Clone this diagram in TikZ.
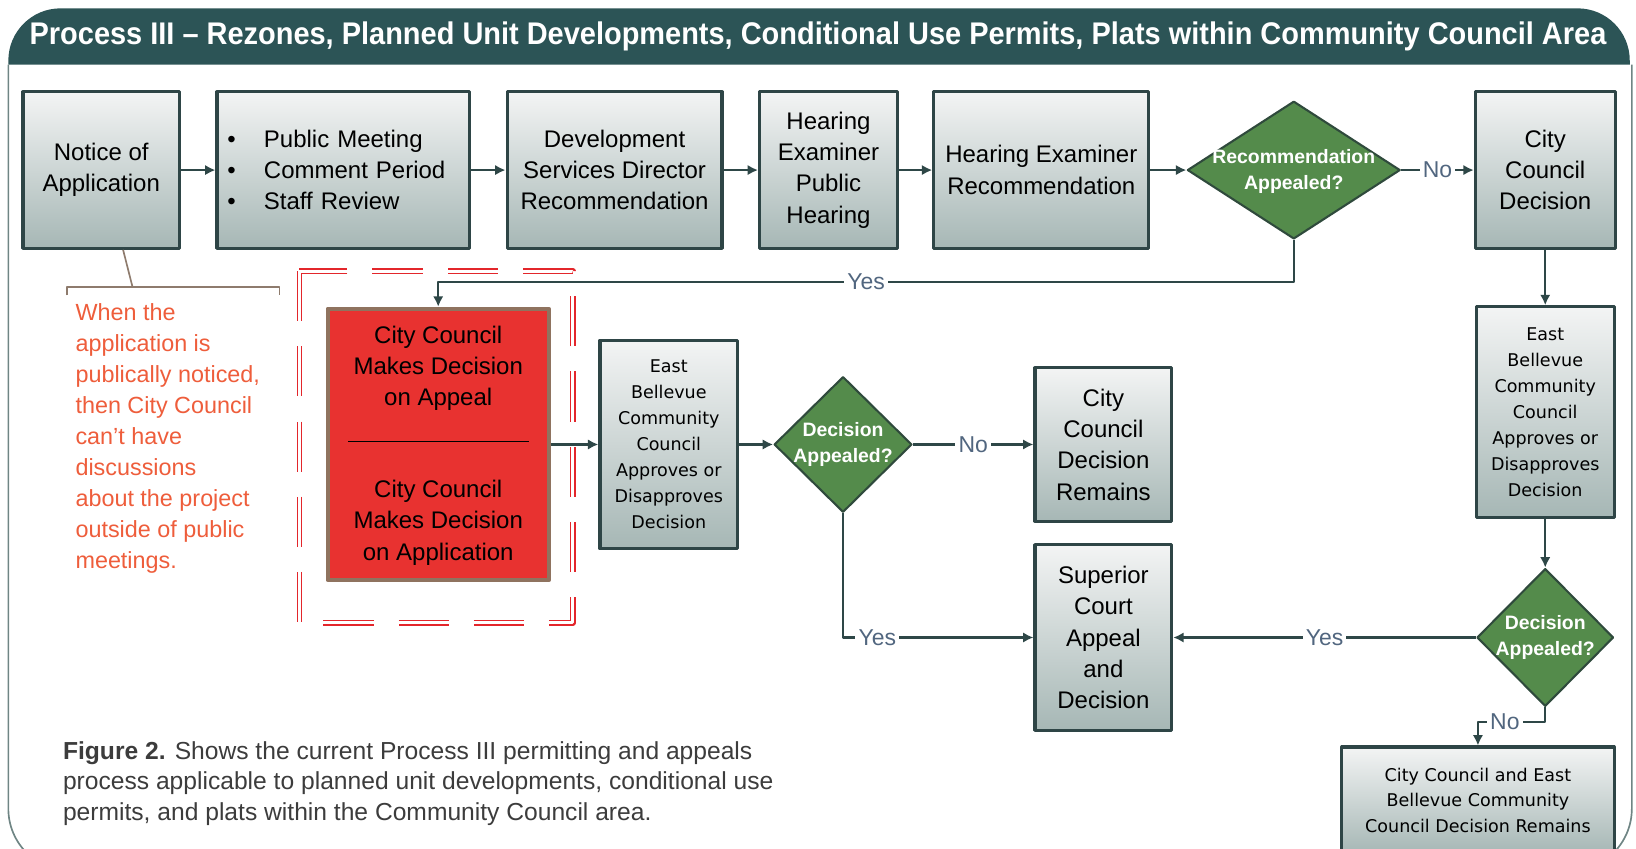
\documentclass[tikz,border=0pt]{standalone}
\usepackage{fontspec}
\setmainfont{Liberation Sans}
\newfontfamily\ebfont{DejaVu Sans}
\newfontfamily\titlefont{Liberation Sans}[FakeStretch=0.925]
\usetikzlibrary{arrows.meta,shapes.geometric}
\definecolor{banner}{HTML}{2C5456}
\definecolor{boxline}{HTML}{2E4546}
\definecolor{boxtop}{HTML}{F3F4F4}
\definecolor{boxbot}{HTML}{A6B7B5}
\definecolor{diamfill}{HTML}{548B4B}
\definecolor{diamline}{HTML}{2F4A3C}
\definecolor{arrowcol}{HTML}{2E4747}
\definecolor{labcol}{HTML}{51667F}
\definecolor{notecol}{HTML}{EE5D3B}
\definecolor{brktcol}{HTML}{8E7B6D}
\definecolor{redfill}{HTML}{E83230}
\definecolor{redline}{HTML}{8F735F}
\definecolor{dashred}{HTML}{E3262B}
\definecolor{captcol}{HTML}{3C3C3C}
\definecolor{framecol}{HTML}{6F8584}
\begin{document}
\begin{tikzpicture}[x=0.5pt, y=-0.5pt, line join=round, >={Latex[length=5pt,width=5pt]},
    box/.style={draw=boxline, line width=1.5pt, top color=boxtop, bottom color=boxbot, align=center,
      inner sep=2pt, minimum height=75pt, font=\fontsize{11.5}{15}\selectfont},
    ebox/.style={box, font=\ebfont\fontsize{8.4}{12.5}\selectfont},
    decision/.style={diamond, draw=diamline, line width=1pt, fill=diamfill, inner sep=0pt},
    dectext/.style={text=white, align=center, font=\bfseries\fontsize{9.3}{12.5}\selectfont},
    flow/.style={->, draw=arrowcol, line width=1pt},
    lab/.style={fill=white, inner sep=1.5pt, text=labcol, font=\fontsize{11}{13}\selectfont}]
  \clip (0,0) rectangle (1568,813);
  % banner and frame
  \fill[banner, rounded corners=25pt] (8,62) -- (8,8) -- (1562,8) -- (1562,62);
  \node[text=white, font=\titlefont\bfseries\fontsize{15}{18}\selectfont] (title) at (784,35)
    {Process III \textendash{} Rezones, Planned Unit Developments, Conditional Use Permits, Plats within Community Council Area};
  \draw[framecol, line width=0.8pt, rounded corners=30pt] (8,62) -- (8,835) -- (1564,835) -- (1564,62);
  % top row
  \node[box, minimum width=75pt] (notice) at (97,163) {Notice of\\Application};
  \node[box, minimum width=121pt, text width=111pt, align=left] (meeting) at (329,163)
    {\makebox[17.5pt][l]{\textbullet}Public Meeting\\\makebox[17.5pt][l]{\textbullet}Comment Period\\\makebox[17.5pt][l]{\textbullet}Staff Review};
  \node[box, minimum width=103pt] (director) at (589,163) {Development\\Services Director\\Recommendation};
  \node[box, minimum width=66pt] (hearing) at (794,163) {Hearing\\Examiner\\Public\\Hearing};
  \node[box, minimum width=103pt] (examrec) at (998,163) {Hearing Examiner\\Recommendation};
  \node[decision, minimum width=102pt, minimum height=66pt] (recapp) at (1240,163) {};
  \node[dectext] (recapp-t) at (1240,164) {Recommendation\\Appealed?};
  \node[box, minimum width=67pt] (citydec) at (1481,163) {City\\Council\\Decision};
  % note
  \draw[brktcol, line width=0.8pt] (64,283) -- (64,275) -- (268,275) -- (268,283);
  \coordinate (notetop) at (127,275);
  \draw[brktcol, line width=0.8pt] ([xshift=10.5pt]notice.south) -- (notetop);
  \node[anchor=north west, inner sep=0pt, align=left, text=notecol, font=\fontsize{11.2}{14.85}\selectfont] (note) at (72,291)
    {When the\\application is\\publically noticed,\\then City Council\\can’t have\\discussions\\about the project\\outside of public\\meetings.};
  % city council box
  \draw[dashred, double=white, double distance=1.4pt, line width=0.7pt, dash pattern=on 24pt off 12pt] (287,260) rectangle (549,597);
  \node[draw=redline, line width=2pt, fill=redfill, minimum width=106pt, minimum height=130pt] (council) at (420,426) {};
  \node[align=center, font=\fontsize{11.5}{15}\selectfont] (council-a) at (420,353) {City Council\\Makes Decision\\on Appeal};
  \node[align=center, font=\fontsize{11.5}{15}\selectfont] (council-b) at (420,501) {City Council\\Makes Decision\\on Application};
  \draw[line width=0.8pt] (334,423) -- (507,423);
  % second row
  \node[ebox, minimum width=66pt, minimum height=100pt] (ebcc1) at (641,426) {East\\Bellevue\\Community\\Council\\Approves or\\Disapproves\\Decision};
  \node[decision, minimum width=66pt, minimum height=65pt] (dec1) at (808,426) {};
  \node[dectext] (dec1-t) at (808,426) {Decision\\Appealed?};
  \node[box, minimum width=65.5pt, minimum height=73.5pt] (citystays) at (1057.5,426) {City\\Council\\Decision\\Remains};
  \node[box, minimum width=65.5pt, minimum height=89pt] (superior) at (1057.5,611) {Superior\\Court\\Appeal\\and\\Decision};
  \node[ebox, minimum width=66pt, minimum height=101pt] (ebcc2) at (1481,395) {East\\Bellevue\\Community\\Council\\Approves or\\Disapproves\\Decision};
  \node[decision, minimum width=65.5pt, minimum height=66pt] (dec3) at (1481,611) {};
  \node[dectext] (dec3-t) at (1481,611) {Decision\\Appealed?};
  \node[ebox, minimum width=130.5pt, minimum height=51pt, font=\ebfont\fontsize{8.4}{12.25}\selectfont] (final) at (1416.5,767)
    {City Council and East\\Bellevue Community\\Council Decision Remains};
  % arrows
  \draw[flow] (notice) -- (meeting);
  \draw[flow] (meeting) -- (director);
  \draw[flow] (director) -- (hearing);
  \draw[flow] (hearing) -- (examrec);
  \draw[flow] (examrec) -- (recapp);
  \draw[flow] (recapp) -- node[lab]{No} (citydec);
  \draw[flow] (recapp.south) -- ++(0,40) -| node[lab, pos=0.25]{Yes} (council.north);
  \draw[flow] (citydec) -- (ebcc2);
  \draw[flow] (ebcc2) -- (dec3);
  \draw[flow] (council) -- (ebcc1);
  \draw[flow] (ebcc1) -- (dec1);
  \draw[flow] (dec1) -- node[lab]{No} (citystays);
  \draw[flow] (dec1.south) |- node[lab, pos=0.59]{Yes} (superior.west);
  \draw[flow] (dec3) -- node[lab]{Yes} (superior);
  \draw[flow] (dec3.south) -- ++(0,14) -| node[lab, pos=0.3]{No} (final.north);
  % caption
  \node[anchor=north west, inner sep=0pt, align=left, text=captcol, font=\fontsize{11.8}{14.8}\selectfont] (caption) at (60,710)
    {\textbf{Figure 2.} Shows the current Process III permitting and appeals\\process applicable to planned unit developments, conditional use\\permits, and plats within the Community Council area.};
\end{tikzpicture}
\end{document}
